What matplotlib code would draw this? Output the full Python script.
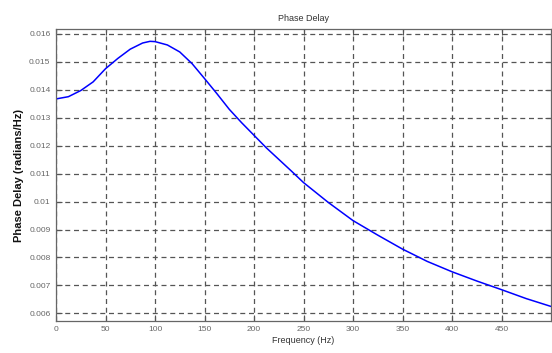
import numpy as np
import matplotlib
matplotlib.use("Agg")
import matplotlib.pyplot as plt

# values
freq = np.array([0, 12.5, 25, 37.5, 50, 62.5, 75, 87.5, 95, 100, 112.5, 125, 137.5,
                 150, 162.5, 175, 187.5, 200, 212.5, 225, 237.5, 250, 275, 300,
                 325, 350, 375, 400, 425, 450, 475, 500])
delay = np.array([0.01367, 0.01375, 0.01397, 0.01428, 0.01475, 0.01512, 0.01545,
                  0.01567, 0.01573, 0.01572, 0.01560, 0.01535, 0.01493, 0.01440,
                  0.01386, 0.01330, 0.01282, 0.01237, 0.01192, 0.01151, 0.01110,
                  0.01068, 0.00997, 0.00932, 0.00880, 0.00830, 0.00786, 0.00749,
                  0.00716, 0.00685, 0.00653, 0.00625])

xticks = [0, 50, 100, 150, 200, 250, 300, 350, 400, 450]
yticks = [0.006, 0.007, 0.008, 0.009, 0.01, 0.011, 0.012, 0.013, 0.014, 0.015, 0.016]
ytick_labels = ['0.006', '0.007', '0.008', '0.009', '0.01', '0.011', '0.012',
                '0.013', '0.014', '0.015', '0.016']

plt.rcParams['font.family'] = ['Liberation Sans Narrow', 'Liberation Sans', 'DejaVu Sans']

fig = plt.figure(figsize=(5.52, 3.53), dpi=100)
ax = fig.add_axes([56 / 552, 1 - 320.7 / 353, (551 - 56) / 552, (320.7 - 29.3) / 353])

ax.plot(freq, delay, color='#0000ff', linewidth=1.1)

ax.set_xlim(0, 500)
ax.set_ylim(0.00574, 0.01616)
ax.set_xticks(xticks)
ax.set_yticks(yticks)
ax.set_yticklabels(ytick_labels)

ax.grid(True, color='#555555', linestyle=(0, (4, 3)), linewidth=0.9)
ax.tick_params(direction='in', length=4, width=0.8, color='#555555',
               labelsize=6, labelcolor='#666666', top=True, right=True, pad=4)
for s in ax.spines.values():
    s.set_color('#666666')
    s.set_linewidth(0.9)

ax.set_title('Phase Delay', fontsize=6.5, color='#333333', pad=6)
ax.set_xlabel('Frequency (Hz)', fontsize=6.5, color='#333333', labelpad=2)
ax.set_ylabel('Phase Delay (radians/Hz)', fontsize=8, fontweight='bold',
              color='#111111', labelpad=4)

fig.savefig('out.png', dpi=100)
